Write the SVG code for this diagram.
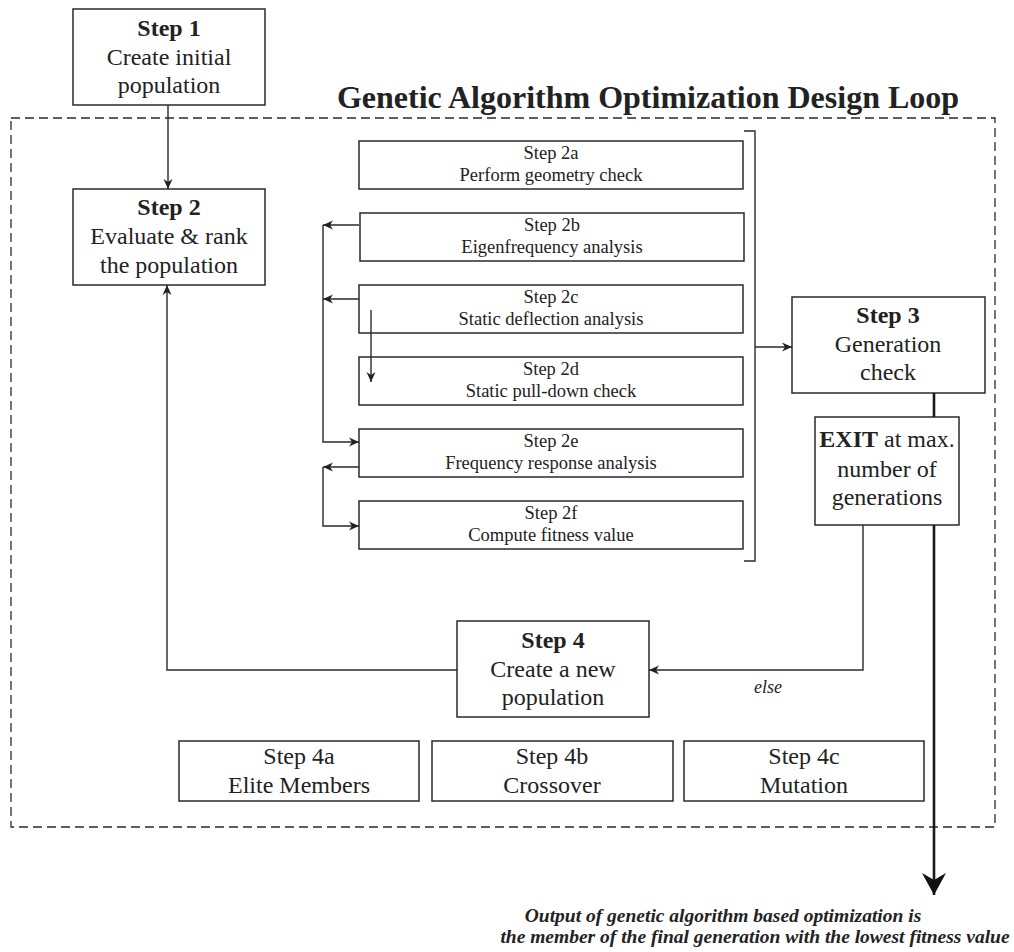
<svg xmlns="http://www.w3.org/2000/svg" width="1014" height="952" viewBox="0 0 1014 952">
<defs>
<style>
.box{fill:#fff;stroke:#2a2a2a;stroke-width:1.5}
.ln{fill:none;stroke:#2a2a2a;stroke-width:1.4}
.thick{fill:none;stroke:#1a1a1a;stroke-width:2.6}
.t{font-family:"Liberation Serif","Times New Roman",serif;fill:#222;text-anchor:middle}
.b24{font-size:24px;font-weight:bold}
.r24{font-size:24px}
.r18{font-size:18.5px}
.out{font-size:19.5px;font-weight:bold;font-style:italic}
</style>
<marker id="arr" viewBox="0 0 10 10" refX="10" refY="5" markerWidth="10" markerHeight="10" markerUnits="userSpaceOnUse" orient="auto">
<path d="M0,0.5 L10,5 L0,9.5 L3,5 z" fill="#222"/>
</marker>
<marker id="big" viewBox="0 0 24 22" refX="12" refY="22" markerWidth="24" markerHeight="22" markerUnits="userSpaceOnUse" orient="0">
<path d="M0,0 L12,7 L24,0 L12,22 z" fill="#111"/>
</marker>
</defs>
<rect x="0" y="0" width="1014" height="952" fill="#fff"/>

<g id="loop">
<rect x="11" y="118" width="984" height="709" fill="none" stroke="#2a2a2a" stroke-width="1.3" stroke-dasharray="9 5"/>
<text class="t" x="648" y="108" style="font-size:32px;font-weight:bold">Genetic Algorithm Optimization Design Loop</text>
</g>

<g id="step1">
<rect class="box" x="73" y="9" width="192" height="96"/>
<text class="t b24" x="169" y="36">Step 1</text>
<text class="t r24" x="169" y="65">Create initial</text>
<text class="t r24" x="169" y="93">population</text>
</g>

<g id="step2">
<rect class="box" x="73" y="189" width="192" height="96"/>
<text class="t b24" x="169" y="215">Step 2</text>
<text class="t r24" x="169" y="244">Evaluate &amp; rank</text>
<text class="t r24" x="169" y="273">the population</text>
</g>

<g id="step2a">
<rect class="box" x="359" y="141" width="384" height="48"/>
<text class="t r18" x="551" y="159">Step 2a</text>
<text class="t r18" x="551" y="181">Perform geometry check</text>
</g>
<g id="step2b">
<rect class="box" x="360" y="213" width="384" height="48"/>
<text class="t r18" x="552" y="231">Step 2b</text>
<text class="t r18" x="552" y="253">Eigenfrequency analysis</text>
</g>
<g id="step2c">
<rect class="box" x="359" y="285" width="384" height="48"/>
<text class="t r18" x="551" y="303">Step 2c</text>
<text class="t r18" x="551" y="325">Static deflection analysis</text>
</g>
<g id="step2d">
<rect class="box" x="359" y="357" width="384" height="48"/>
<text class="t r18" x="551" y="375">Step 2d</text>
<text class="t r18" x="551" y="397">Static pull-down check</text>
</g>
<g id="step2e">
<rect class="box" x="359" y="429" width="384" height="48"/>
<text class="t r18" x="551" y="447">Step 2e</text>
<text class="t r18" x="551" y="469">Frequency response analysis</text>
</g>
<g id="step2f">
<rect class="box" x="359" y="501" width="384" height="48"/>
<text class="t r18" x="551" y="519">Step 2f</text>
<text class="t r18" x="551" y="541">Compute fitness value</text>
</g>

<g id="step3">
<rect class="box" x="792" y="297" width="193" height="96"/>
<text class="t b24" x="888" y="323">Step 3</text>
<text class="t r24" x="888" y="352">Generation</text>
<text class="t r24" x="888" y="380">check</text>
</g>

<g id="exit">
<rect class="box" x="815" y="417" width="144" height="108"/>
<text class="t r24" x="887" y="447"><tspan font-weight="bold">EXIT</tspan> at max.</text>
<text class="t r24" x="887" y="477">number of</text>
<text class="t r24" x="887" y="505">generations</text>
</g>

<g id="step4">
<rect class="box" x="457" y="621" width="192" height="96"/>
<text class="t b24" x="553" y="648">Step 4</text>
<text class="t r24" x="553" y="677">Create a new</text>
<text class="t r24" x="553" y="705">population</text>
</g>

<g id="step4a">
<rect class="box" x="179" y="741" width="240" height="60"/>
<text class="t r24" x="299" y="764">Step 4a</text>
<text class="t r24" x="299" y="793">Elite Members</text>
</g>
<g id="step4b">
<rect class="box" x="432" y="741" width="241" height="60"/>
<text class="t r24" x="552" y="764">Step 4b</text>
<text class="t r24" x="552" y="793">Crossover</text>
</g>
<g id="step4c">
<rect class="box" x="684" y="741" width="240" height="60"/>
<text class="t r24" x="804" y="764">Step 4c</text>
<text class="t r24" x="804" y="793">Mutation</text>
</g>

<g id="connectors">
<line class="ln" x1="168" y1="105" x2="168" y2="189" marker-end="url(#arr)"/>
<polyline class="ln" points="457,670 167,670 167,285" marker-end="url(#arr)"/>
<polyline class="ln" points="744,131 755,131 755,561 744,561"/>
<line class="ln" x1="755" y1="347" x2="792" y2="347" marker-end="url(#arr)"/>
<line class="ln" x1="359" y1="225" x2="323" y2="225" marker-end="url(#arr)"/>
<line class="ln" x1="359" y1="299" x2="323" y2="299" marker-end="url(#arr)"/>
<polyline class="ln" points="323,225 323,442 359,442" marker-end="url(#arr)"/>
<line class="ln" x1="371" y1="310" x2="371" y2="382" marker-end="url(#arr)"/>
<line class="ln" x1="359" y1="467" x2="323" y2="467" marker-end="url(#arr)"/>
<polyline class="ln" points="323,467 323,526 359,526" marker-end="url(#arr)"/>
<line class="thick" x1="934" y1="393" x2="934" y2="417"/>
<polyline class="ln" points="863,525 863,670 649,670" marker-end="url(#arr)"/>
<line class="thick" x1="934" y1="525" x2="934" y2="895" marker-end="url(#big)"/>
<text class="t" x="768" y="693" style="font-size:18px;font-style:italic">else</text>
</g>

<g id="output">
<text class="t out" x="723" y="922">Output of genetic algorithm based optimization is</text>
<text class="t out" x="755" y="943">the member of the final generation with the lowest fitness value</text>
</g>
</svg>
